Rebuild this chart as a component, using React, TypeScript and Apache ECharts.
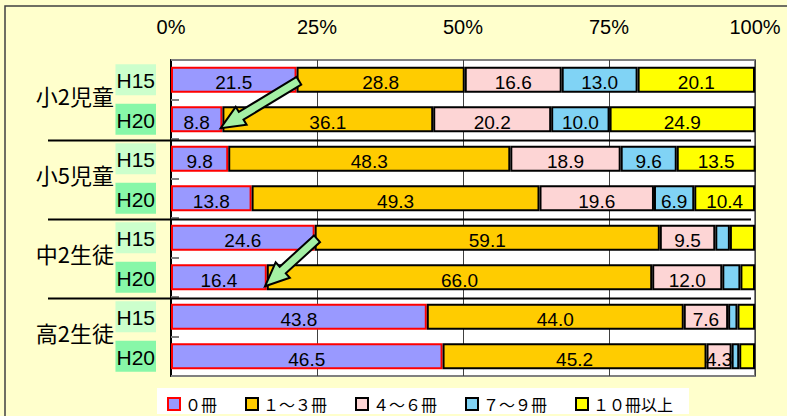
import React, { useEffect, useRef } from 'react';
import * as echarts from 'echarts';

const groups = ['小2児童', '小5児童', '中2生徒', '高2生徒'];
const years = ['H15', 'H20'];
const seriesNames = ['０冊', '１～３冊', '４～６冊', '７～９冊', '１０冊以上'];
const zeroBooks = [21.5, 8.8, 9.8, 13.8, 24.6, 16.4, 43.8, 46.5];
const oneToThree = [28.8, 36.1, 48.3, 49.3, 59.1, 66.0, 44.0, 45.2];
const fourToSix = [16.6, 20.2, 18.9, 19.6, 9.5, 12.0, 7.6, 4.3];
const sevenToNine = [13.0, 10.0, 9.6, 6.9, 2.5, 3.1, 1.6, 1.3];
const tenPlus = [20.1, 24.9, 13.5, 10.4, 4.3, 2.5, 3.0, 2.7];
const arrowPairs = [[0, 1], [4, 5]];

const LATIN = "'Liberation Sans', Arial, sans-serif";
const CJK = "'Noto Sans CJK JP', sans-serif";

export default function App() {
  const ref = useRef<HTMLDivElement>(null);
  useEffect(() => {
    const chart = echarts.init(ref.current!, null, { renderer: 'svg' });
    const rows = groups.flatMap((g) => years.map((y) => `${g}|${y}`));
    const values = [zeroBooks, oneToThree, fourToSix, sevenToNine, tenPlus];
    const colors = ['#9999ff', '#ffcc00', '#fdd5d5', '#80d3f5', '#ffff00'];
    const borders = ['#ff0000', '#000000', '#000000', '#000000', '#000000'];
    const minLabel = [0, 0, 0, 5, 5];
    const barWidth = 26;

    const series = values.map((vals, i) => ({
      name: seriesNames[i],
      type: 'bar',
      stack: 'total',
      barWidth,
      data: vals,
      itemStyle: { color: colors[i], borderColor: borders[i], borderWidth: 2 },
      label: {
        show: true,
        position: 'inside',
        offset: [0, 3],
        color: '#000',
        fontSize: 19,
        fontFamily: LATIN,
        formatter: (p: any) => (p.value >= minLabel[i] ? Number(p.value).toFixed(1) : ''),
      },
      emphasis: { disabled: true },
    }));

    chart.setOption({
      animation: false,
      backgroundColor: '#ffffcc',
      grid: {
        left: 171, right: 32, top: 60, bottom: 40,
        show: true, backgroundColor: '#ffffff', borderColor: '#808080', borderWidth: 2,
      },
      xAxis: {
        type: 'value', position: 'top', min: 0, max: 100, interval: 25,
        axisLine: { show: false }, axisTick: { show: false },
        axisLabel: { formatter: '{value}%', margin: 23, fontSize: 20, color: '#000', fontFamily: LATIN },
        splitLine: { show: true, lineStyle: { color: '#404040', width: 1 } },
      },
      yAxis: {
        type: 'category', data: rows, inverse: true,
        axisLine: { show: true, lineStyle: { color: '#000', width: 2 } },
        axisTick: { show: true, inside: true, length: 8, lineStyle: { color: '#808080', width: 2 } },
        axisLabel: {
          margin: 15,
          formatter: (v: string) => {
            const y = v.split('|')[1];
            return `{${y.toLowerCase()}|${y}}`;
          },
          rich: {
            h15: { backgroundColor: '#ccffcc', padding: [6, 1, 4, 1], fontSize: 21, fontFamily: LATIN, color: '#000' },
            h20: { backgroundColor: '#88f7a8', padding: [6, 1, 4, 1], fontSize: 21, fontFamily: LATIN, color: '#000' },
          },
        },
      },
      legend: {
        left: 157, top: 388,
        itemWidth: 12, itemHeight: 12, itemGap: 28,
        padding: [8, 16, 2, 10],
        backgroundColor: '#ffffff',
        textStyle: { fontSize: 16, lineHeight: 16, fontFamily: CJK, color: '#000' },
        selectedMode: false,
        data: seriesNames.map((n, i) => ({
          name: n, icon: 'rect',
          itemStyle: { color: colors[i], borderColor: borders[i], borderWidth: 2 },
        })),
      },
      series,
    });

    const px = (v: number, r: number) => chart.convertToPixel({ gridIndex: 0 }, [v, r]) as number[];
    const axisX = px(0, 0)[0];
    const rightX = px(100, 0)[0];
    const graphics: any[] = [];

    graphics.push({
      type: 'rect', z: 100,
      shape: { x: 5, y: 6, width: 820, height: 440 },
      style: { fill: 'none', stroke: '#404040', lineWidth: 1.5 },
    });

    groups.forEach((g, k) => {
      const y = (px(0, 2 * k)[1] + px(0, 2 * k + 1)[1]) / 2 - 5;
      graphics.push({
        type: 'text', z: 100, x: axisX - 57, y,
        style: { text: g, fontSize: 22, fontFamily: CJK, fill: '#000', align: 'right', verticalAlign: 'middle' },
      });
      if (k > 0) {
        const sy = (px(0, 2 * k - 1)[1] + px(0, 2 * k)[1]) / 2 + 1.5;
        graphics.push({
          type: 'line', z: 100,
          shape: { x1: 48, y1: sy, x2: rightX - 4, y2: sy },
          style: { stroke: '#000', lineWidth: 2 },
        });
      }
    });

    arrowPairs.forEach(([a, b]) => {
      const t0 = px(zeroBooks[a] + 0.4, a);
      const p0 = px(zeroBooks[b] - 0.3, b);
      const T = [t0[0], t0[1] + 1];
      const P = [p0[0], p0[1] + barWidth / 2 - 4];
      const dx = P[0] - T[0], dy = P[1] - T[1];
      const len = Math.hypot(dx, dy);
      const d = [dx / len, dy / len];
      const n = [-d[1], d[0]];
      const sw = 4.5, hw = 10.5, hl = 24;
      const H = [P[0] - d[0] * hl, P[1] - d[1] * hl];
      const pt = (base: number[], s: number) => [base[0] + n[0] * s, base[1] + n[1] * s];
      graphics.push({
        type: 'polygon', z: 110,
        shape: { points: [pt(T, sw), pt(H, sw), pt(H, hw), P, pt(H, -hw), pt(H, -sw), pt(T, -sw)] },
        style: { fill: '#a4f0a4', stroke: '#000', lineWidth: 2, lineJoin: 'miter' },
      });
    });

    chart.setOption({ graphic: graphics });
    return () => chart.dispose();
  }, []);
  return <div ref={ref} style={{ position: 'absolute', left: 0, top: 0, width: 787, height: 416 }} />;
}
